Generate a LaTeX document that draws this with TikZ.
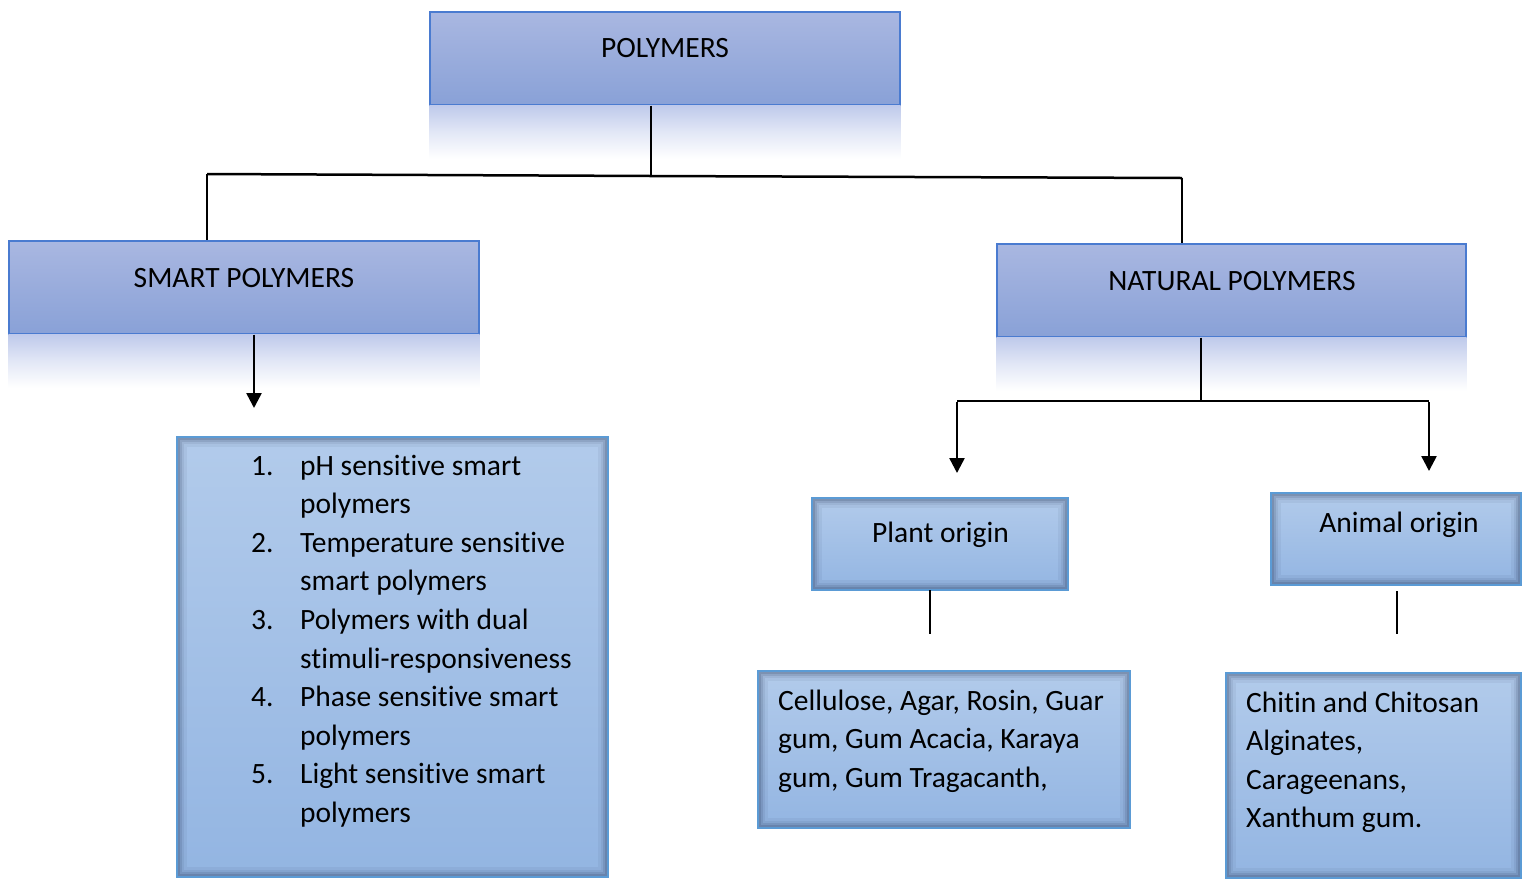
\documentclass[tikz,border=0pt]{standalone}
\usepackage{fontspec}
\setmainfont{Carlito}[Ligatures={NoCommon,NoContextual}]
\usetikzlibrary{arrows.meta}
\definecolor{hdtop}{HTML}{A9B7E1}
\definecolor{hdbot}{HTML}{89A1D7}
\definecolor{hdline}{HTML}{4A7BD0}
\definecolor{sbtop}{HTML}{B2CBEB}
\definecolor{sbbot}{HTML}{93B5E2}
\definecolor{sbline}{HTML}{5B9BD5}
\definecolor{refl}{HTML}{BFCAEB}
\definecolor{shd}{HTML}{1F2F4F}
\newcommand\ishadow[1]{%
  \begin{scope}
    \clip (#1.south west) rectangle (#1.north east);
    \foreach \w/\o in {20/0.06,15/0.08,10/0.12,6/0.16,3/0.24}{
      \draw[line width=\w pt, draw=shd, opacity=\o] (#1.south west) rectangle (#1.north east);}
  \end{scope}
  \draw[sbline, line width=1.8pt] (#1.south west) rectangle (#1.north east);}
\newcommand\reflect[2]{%
  \shade[top color=refl, bottom color=white, middle color=refl!45!white] (#1.south west) rectangle ([yshift=-#2pt]#1.south east);}
\tikzset{
  hdbox/.style={rectangle, inner sep=0pt, top color=hdtop, bottom color=hdbot, draw=hdline, line width=1.3pt},
  sbox/.style={rectangle, inner sep=0pt, top color=sbtop, bottom color=sbbot},
  txt/.style={inner sep=0pt, font=\fontsize{29.5}{38.6}\selectfont},
  conn/.style={line width=2.5pt, black},
  arr/.style={conn, -{Triangle[width=15pt,length=15pt]}}
}
\begin{document}
\begin{tikzpicture}[x=1pt,y=-1pt]
\useasboundingbox[fill=white] (0,0) rectangle (1522,879);
% heading boxes
\node[hdbox, minimum width=470pt, minimum height=93pt] (pol) at (665,58.5) {};
\node[hdbox, minimum width=470pt, minimum height=93pt] (smart) at (244,287.5) {};
\node[hdbox, minimum width=469pt, minimum height=93pt] (nat) at (1231.5,290.5) {};
\reflect{pol}{53}
\reflect{smart}{53}
\reflect{nat}{53}
\node[txt, anchor=base] (polT) at (665,57) {POLYMERS};
\node[txt, anchor=base] (smartT) at (244,287) {SMART POLYMERS};
\node[txt, anchor=base] (natT) at (1232,290) {NATURAL POLYMERS};
% shadowed boxes
\node[sbox, minimum width=431pt, minimum height=440pt] (list) at (392.5,657) {};
\node[sbox, minimum width=256pt, minimum height=92pt] (plant) at (940,544) {};
\node[sbox, minimum width=372pt, minimum height=157pt] (cell) at (944,749.5) {};
\node[sbox, minimum width=250pt, minimum height=92pt] (anim) at (1396,539) {};
\node[sbox, minimum width=295pt, minimum height=205pt] (chit) at (1373.5,775.5) {};
\ishadow{list}
\ishadow{plant}
\ishadow{cell}
\ishadow{anim}
\ishadow{chit}
% texts
\node[txt, anchor=base] (plantT) at (940.5,542) {Plant origin};
\node[txt, anchor=base] (animT) at (1399,532) {Animal origin};
\foreach \n/\t [count=\i from 0] in {1./pH sensitive smart, /polymers, 2./Temperature sensitive, /smart polymers, 3./Polymers with dual, /stimuli-responsiveness, 4./Phase sensitive smart, /polymers, 5./Light sensitive smart, /polymers}{
  \node[txt, anchor=base west] (num\i) at (251,475+38.6*\i) {\n};
  \node[txt, anchor=base west] (item\i) at (300,475+38.6*\i) {\t};
}
\foreach \t [count=\i from 0] in {{Cellulose, Agar, Rosin, Guar}, {gum, Gum Acacia, Karaya}, {gum, Gum Tragacanth,}}{
  \node[txt, anchor=base west] (cellT\i) at (778,710+38.5*\i) {\t};
}
\foreach \t [count=\i from 0] in {Chitin and Chitosan, {Alginates,}, {Carageenans,}, Xanthum gum.}{
  \node[txt, anchor=base west] (chitT\i) at (1246,712+38.5*\i) {\t};
}
% connectors
\coordinate (j1) at (651,176);
\coordinate (jl) at (207,174);
\coordinate (jr) at (1182,178);
\draw[conn] (pol.south -| j1) -- (j1);
\draw[conn] (jl) -- (j1) -- (jr);
\draw[conn] (jl) -- (jl |- smart.north);
\draw[conn] (jr) -- (jr |- nat.north);
\coordinate (sa) at (254,408);
\draw[arr] (smart.south -| sa) -- (sa);
\coordinate (j2) at (1201,401);
\coordinate (nl) at (957,401);
\coordinate (nr) at (1429,401);
\coordinate (nla) at (957,473);
\coordinate (nra) at (1429,471);
\draw[conn] (nat.south -| j2) -- (j2);
\draw[conn] (nl) -- (nr);
\draw[arr] ([yshift=-1pt]nl) -- (nla);
\draw[arr] ([yshift=-1pt]nr) -- (nra);
\coordinate (ps) at (930,590);
\coordinate (pe) at (930,634);
\draw[conn] (ps) -- (pe);
\coordinate (as) at (1397,591);
\coordinate (ae) at (1397,634);
\draw[conn] (as) -- (ae);
\end{tikzpicture}
\end{document}
